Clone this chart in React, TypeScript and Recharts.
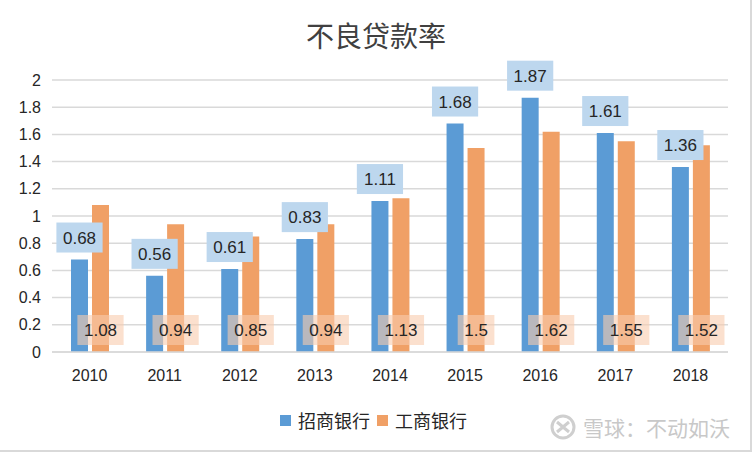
import { BarChart, Bar, XAxis, YAxis, CartesianGrid } from 'recharts'

const years = ['2010', '2011', '2012', '2013', '2014', '2015', '2016', '2017', '2018']
const cmb = [0.68, 0.56, 0.61, 0.83, 1.11, 1.68, 1.87, 1.61, 1.36]
const icbc = [1.08, 0.94, 0.85, 0.94, 1.13, 1.5, 1.62, 1.55, 1.52]
const yTicks = [0, 0.2, 0.4, 0.6, 0.8, 1, 1.2, 1.4, 1.6, 1.8, 2]

const data = years.map((y, i) => ({ year: y, cmb: cmb[i], icbc: icbc[i] }))

const font = '"Liberation Sans", "Noto Sans CJK SC", sans-serif'
const cjk = '"Noto Sans CJK SC", sans-serif'

function boxWidth(text: string) {
  let w = 0
  for (const ch of text) w += ch === '.' ? 4.7 : 9.5
  return w + 13
}

function TopLabel(props: any) {
  const { x, y, width, value } = props
  const t = String(value)
  const w = boxWidth(t)
  const cx = x + width / 2
  const h = 30
  const top = y - 7 - h
  return (
    <g>
      <rect x={cx - w / 2} y={top} width={w} height={h} fill="#BDD7EE" />
      <text x={cx} y={top + h / 2 + 6} textAnchor="middle" fontSize={17} fill="#262626" fontFamily={font}>{t}</text>
    </g>
  )
}

function BottomLabel(props: any) {
  const { x, y, width, height, value } = props
  const t = String(value)
  const w = boxWidth(t)
  const cx = x + width / 2
  const h = 30
  const top = y + height - 7 - h
  return (
    <g>
      <rect x={cx - w / 2} y={top} width={w} height={h} fill="#F8CBAD" fillOpacity={0.6} />
      <text x={cx} y={top + h / 2 + 6} textAnchor="middle" fontSize={17} fill="#262626" fontFamily={font}>{t}</text>
    </g>
  )
}

const legendItems = [
  { name: '招商银行', color: '#5B9BD5' },
  { name: '工商银行', color: '#F0A066' },
]

export default function App() {
  return (
    <div style={{ position: 'absolute', left: 0, top: 0, width: 752, height: 452, background: '#fff', borderRight: '2px solid #d9d9d9', borderBottom: '2px solid #d9d9d9', boxSizing: 'border-box', fontFamily: font }}>
      <div style={{ position: 'absolute', left: 0, width: 752, top: 16, textAlign: 'center', fontSize: 28, lineHeight: '38px', color: '#404040', fontFamily: cjk }}>
        不良贷款率
      </div>
      <BarChart width={752} height={452} data={data} margin={{ top: 80, right: 24, left: 0, bottom: 70 }} barSize={17} barGap={4}>
        <CartesianGrid vertical={false} stroke="#d9d9d9" strokeWidth={1.5} />
        <XAxis dataKey="year" axisLine={{ stroke: '#d9d9d9', strokeWidth: 1.5 }} tickLine={false} tickMargin={12} height={30}
          tick={{ fontSize: 16, fill: '#262626', fontFamily: font }} />
        <YAxis domain={[0, 2]} ticks={yTicks} axisLine={false} tickLine={false} width={52} tickMargin={5}
          tick={{ fontSize: 16, fill: '#262626', fontFamily: font }} />
        <Bar dataKey="cmb" name="招商银行" fill="#5B9BD5" isAnimationActive={false} label={<TopLabel />} />
        <Bar dataKey="icbc" name="工商银行" fill="#F0A066" isAnimationActive={false} label={<BottomLabel />} />
      </BarChart>
      <div style={{ position: 'absolute', left: 280, top: 407, display: 'flex', alignItems: 'center', fontSize: 18, color: '#262626', fontFamily: cjk }}>
        {legendItems.map((it) => (
          <div key={it.name} style={{ display: 'flex', alignItems: 'center', marginRight: 7 }}>
            <span style={{ width: 11, height: 11, background: it.color, marginRight: 7, display: 'inline-block' }} />
            {it.name}
          </div>
        ))}
      </div>
      <div style={{ position: 'absolute', left: 550, top: 412, display: 'flex', alignItems: 'center', color: '#c8c8c8', fontSize: 21, fontFamily: cjk }}>
        <svg width={26} height={26} style={{ marginRight: 7 }}>
          <circle cx={13} cy={13} r={11} fill="none" stroke="#cfcfcf" strokeWidth={3} />
          <path d="M7 8 L19 18 M19 8 L7 18" stroke="#cfcfcf" strokeWidth={3} />
        </svg>
        雪球：不动如沃
      </div>
    </div>
  )
}
